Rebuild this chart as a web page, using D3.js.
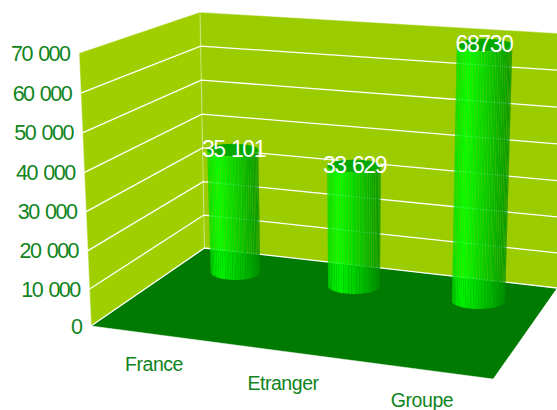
<!DOCTYPE html>
<html>
<head>
<meta charset="utf-8">
<script src="https://cdn.jsdelivr.net/npm/d3@7/dist/d3.min.js"></script>
<style>
html,body{margin:0;padding:0;background:#fff}
svg{display:block}
text{font-family:"Liberation Sans",Arial,sans-serif}
</style>
</head>
<body>
<svg id="chart" width="557" height="410"></svg>
<script>
const categories = ["France", "Etranger", "Groupe"];
const values = [35101, 33629, 68730];
const valueLabels = ["35 101", "33 629", "68730"];
const yTicks = [0, 10000, 20000, 30000, 40000, 50000, 60000, 70000];

const svg = d3.select("#chart");
const maxV = 70000;

// wall edges: vertical value -> screen position
const frontY = d3.scalePow().exponent(1.03).domain([0, maxV]).range([326, 53]);
const frontX = d3.scaleLinear().domain([0, maxV]).range([91, 79]);
const backY = d3.scalePow().exponent(1.012).domain([0, maxV]).range([248, 12]);
const backX = d3.scaleLinear().domain([0, maxV]).range([204.5, 200]);
const rightY = d3.scalePow().exponent(1.02).domain([0, maxV]).range([288, 33]);
const rightX = d3.scaleLinear().domain([0, maxV]).range([557, 557]);

const fmt = d3.formatLocale({decimal: ".", thousands: " ", grouping: [3], currency: ["", ""]}).format(",d");
const pts = a => a.map(p => p.join(",")).join(" ");

// walls
svg.append("polygon").attr("fill", "#a0cf00")
  .attr("points", pts([[frontX(0), frontY(0)], [frontX(maxV), frontY(maxV)], [backX(maxV), backY(maxV)], [backX(0), backY(0)]]));
svg.append("polygon").attr("fill", "#9bcc00")
  .attr("points", pts([[backX(0), backY(0)], [backX(maxV), backY(maxV)], [rightX(maxV), rightY(maxV)], [rightX(0), rightY(0)]]));

// floor
const floorFront = [493, 379];
svg.append("polygon").attr("fill", "#007a00")
  .attr("points", pts([[frontX(0), frontY(0)], [backX(0), backY(0)], [rightX(0), rightY(0)], floorFront]));

// grid
const grid = svg.append("g").attr("fill", "none").attr("stroke", "#fff").attr("stroke-width", 1.3);
grid.selectAll(".g").data(yTicks).join("polyline")
  .attr("points", d => pts([[frontX(d), frontY(d)], [backX(d), backY(d)], [rightX(d), rightY(d)]]))
  .attr("stroke-opacity", d => d === maxV ? 0.55 : 1);
grid.append("line").attr("x1", backX(0)).attr("y1", backY(0)).attr("x2", backX(maxV)).attr("y2", backY(maxV)).attr("stroke-opacity", .3);
grid.append("line").attr("x1", frontX(0)).attr("y1", frontY(0)).attr("x2", frontX(maxV)).attr("y2", frontY(maxV)).attr("stroke-opacity", .5);
svg.append("line").attr("x1", frontX(0)).attr("y1", frontY(0)).attr("x2", floorFront[0]).attr("y2", floorFront[1])
  .attr("stroke", "#fff").attr("stroke-opacity", .5).attr("stroke-width", 1);

// bars
const baseX = d3.scaleOrdinal().domain(categories).range([235.5, 354, 478.5]);
const baseY = d3.scaleOrdinal().domain(categories).range([272, 286, 301]);
const unitH = d3.scaleOrdinal().domain(categories).range([0.003476, 0.00357, 0.003725]);
const baseW = d3.scaleOrdinal().domain(categories).range([24.8, 26, 26.6]);
const shade = d3.scaleLinear()
  .domain([0, 0.2, 0.55, 1])
  .range(["#00dc00", "#00ff00", "#00d000", "#009000"]);
const nStrips = 30;
const strips = d3.range(nStrips);

const bars = svg.append("g");
categories.forEach((c, i) => {
  const v = values[i];
  const h = unitH(c) * v;
  const bx = baseX(c), by = baseY(c), br = baseW(c);
  const tx = bx + (bx - 354) * 0.00019 * h;
  const ty = by - h;
  const tr = br * (1 + h * 0.00012) + 0.4;
  const bry = 8, tr_y = 6.3;
  const g = bars.append("g");
  const at = (t, cx, cy, rx, ry) => [cx - rx * Math.cos(t), cy + ry * Math.sin(t)];
  g.selectAll("polygon").data(strips).join("polygon")
    .attr("fill", s => shade((1 - Math.cos(Math.PI * (s + .5) / nStrips)) / 2))
    .attr("fill-opacity", .92)
    .attr("points", s => {
      const a = Math.PI * s / nStrips, b = Math.PI * (s + 1) / nStrips;
      return pts([at(a, tx, ty, tr, tr_y), at(b, tx, ty, tr, tr_y), at(b, bx, by, br, bry), at(a, bx, by, br, bry)]);
    });
  g.append("ellipse").attr("cx", tx).attr("cy", ty).attr("rx", tr).attr("ry", tr_y).attr("fill", "#00a800");
});

// y labels
svg.append("g").attr("fill", "#0f8420").attr("font-size", 21.5).attr("letter-spacing", -1.5).attr("word-spacing", 1.8).attr("text-anchor", "end")
  .selectAll("text").data(yTicks).join("text")
  .attr("x", d => frontX(d) - 9.5)
  .attr("y", d => frontY(d))
  .attr("dy", "0.35em")
  .text(d => fmt(d));

// category labels
const catX = d3.scaleOrdinal().domain(categories).range([154, 283, 422]);
const catY = d3.scaleOrdinal().domain(categories).range([364, 383, 400]);
svg.append("g").attr("fill", "#0f8420").attr("font-size", 19.5).attr("letter-spacing", -0.45).attr("text-anchor", "middle")
  .selectAll("text").data(categories).join("text")
  .attr("x", d => catX(d)).attr("y", d => catY(d)).attr("dy", "0.35em").text(d => d);

// value labels
const valX = d3.scaleOrdinal().domain(categories).range([233.5, 354.5, 484]);
svg.append("g").attr("fill", "#fff").attr("font-size", 23).attr("letter-spacing", -1.4).attr("word-spacing", 1.2).attr("text-anchor", "middle")
  .selectAll("text").data(categories).join("text")
  .attr("x", d => valX(d))
  .attr("y", (d, i) => baseY(d) - unitH(d) * values[i] - 1)
  .attr("dy", "0.35em")
  .text((d, i) => valueLabels[i]);
</script>
</body>
</html>
